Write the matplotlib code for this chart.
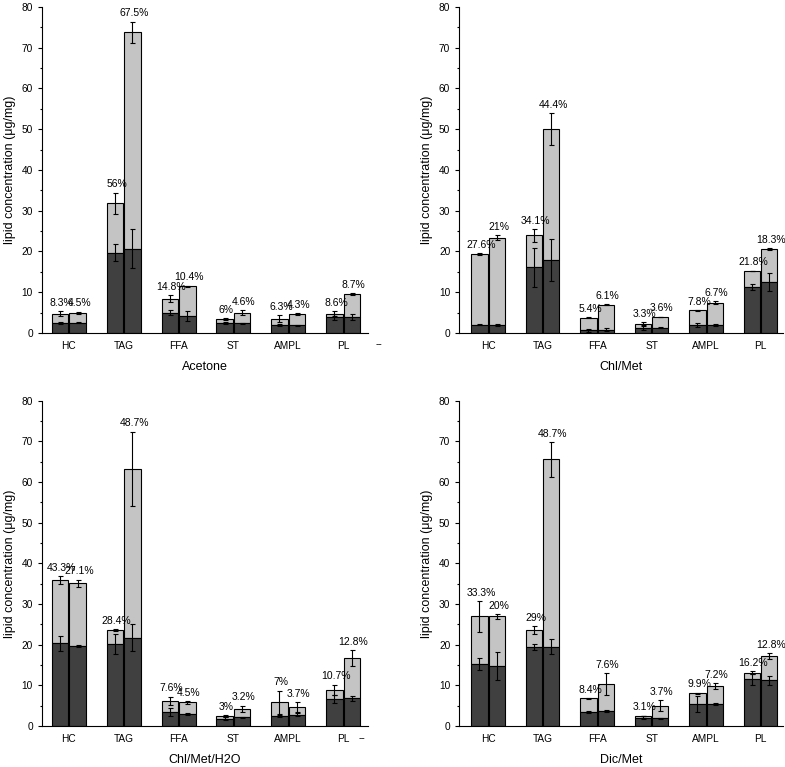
import numpy as np
import matplotlib
matplotlib.use("Agg")
import matplotlib.pyplot as plt

plt.rcParams['font.family']=['Liberation Sans','DejaVu Sans']

cats=["HC","TAG","FFA","ST","AMPL","PL"]

#======================
# Data (per panel: two bars per category)
#======================

# Acetone
ace_dark1=[2.46,19.7,4.9,2.46,1.9,3.9]
ace_dark1_err=[0.2,2.0,0.6,0.2,0.25,0.8]
ace_tot1=[4.75,31.8,8.4,3.36,3.5,4.75]
ace_tot1_err=[0.5,2.6,0.9,0.2,0.9,0.5]
ace_dark2=[2.46,20.7,4.1,2.4,1.9,3.9]
ace_dark2_err=[0.1,4.9,1.2,0.1,0.1,0.8]
ace_tot2=[4.9,73.8,11.4,5.0,4.6,9.5]
ace_tot2_err=[0.3,2.6,0.2,0.5,0.2,0.3]
ace_pct1=["8.3%","56%","14.8%","6%","6.3%","8.6%"]
ace_pct2=["4.5%","67.5%","10.4%","4.6%","4.3%","8.7%"]

# Chl/Met
cm_dark1=[2.05,16.1,0.65,1.2,1.9,11.3]
cm_dark1_err=[0.1,4.8,0.4,0.4,0.5,0.8]
cm_tot1=[19.3,23.9,3.7,2.3,5.5,15.2]
cm_tot1_err=[0.2,1.5,0.1,0.3,0.1,0.1]
cm_dark2=[1.9,17.9,0.8,1.3,1.9,12.5]
cm_dark2_err=[0.2,5.2,0.4,0.2,0.2,2.3]
cm_tot2=[23.4,50.0,6.9,3.9,7.45,20.6]
cm_tot2_err=[0.5,4.0,0.1,0.1,0.3,0.25]
cm_pct1=["27.6%","34.1%","5.4%","3.3%","7.8%","21.8%"]
cm_pct2=["21%","44.4%","6.1%","3.6%","6.7%","18.3%"]

# Chl/Met/H2O
cmw_dark1=[20.3,20.2,3.5,1.8,2.45,6.55]
cmw_dark1_err=[1.8,2.4,1.0,0.3,0.2,1.0]
cmw_tot1=[35.9,23.6,6.2,2.45,5.8,8.85]
cmw_tot1_err=[1.0,0.2,1.0,0.2,2.9,1.3]
cmw_dark2=[19.7,21.7,3.0,2.1,2.8,6.8]
cmw_dark2_err=[0.2,3.3,0.3,0.1,0.3,0.6]
cmw_tot2=[35.1,63.3,5.8,4.2,4.75,16.7]
cmw_tot2_err=[0.9,9.1,0.4,0.8,1.2,1.9]
cmw_pct1=["43.3%","28.4%","7.6%","3%","7%","10.7%"]
cmw_pct2=["27.1%","48.7%","4.5%","3.2%","3.7%","12.8%"]

# Dic/Met
dm_dark1=[15.2,19.5,3.5,2.05,5.4,11.5]
dm_dark1_err=[1.4,0.7,0.25,0.3,2.0,1.4]
dm_tot1=[27.0,23.6,6.8,2.45,8.0,13.1]
dm_tot1_err=[3.8,0.9,0.1,0.1,0.2,0.3]
dm_dark2=[14.8,19.5,3.7,1.9,5.4,11.3]
dm_dark2_err=[3.5,1.9,0.2,0.1,0.2,1.1]
dm_tot2=[27.0,65.6,10.25,5.0,9.8,17.2]
dm_tot2_err=[0.6,4.3,2.7,1.4,0.7,0.8]
dm_pct1=["33.3%","29%","8.4%","3.1%","9.9%","16.2%"]
dm_pct2=["20%","48.7%","7.6%","3.7%","7.2%","12.8%"]

panels=[
    ("Acetone",ace_dark1,ace_dark1_err,ace_tot1,ace_tot1_err,ace_dark2,ace_dark2_err,ace_tot2,ace_tot2_err,ace_pct1,ace_pct2),
    ("Chl/Met",cm_dark1,cm_dark1_err,cm_tot1,cm_tot1_err,cm_dark2,cm_dark2_err,cm_tot2,cm_tot2_err,cm_pct1,cm_pct2),
    ("Chl/Met/H2O",cmw_dark1,cmw_dark1_err,cmw_tot1,cmw_tot1_err,cmw_dark2,cmw_dark2_err,cmw_tot2,cmw_tot2_err,cmw_pct1,cmw_pct2),
    ("Dic/Met",dm_dark1,dm_dark1_err,dm_tot1,dm_tot1_err,dm_dark2,dm_dark2_err,dm_tot2,dm_tot2_err,dm_pct1,dm_pct2),
]

boxes=[
    [0.0535,0.566,0.415,0.425],
    [0.585,0.566,0.413,0.425],
    [0.0535,0.0535,0.415,0.424],
    [0.585,0.0535,0.413,0.424],
]

# stray "--" tick text seen in the left panels
dash_pos=[(6.65,-2.7),None,(6.35,-3.1),None]

dark="#404040"
light="#c4c4c4"
w=0.30
off=0.16

fig=plt.figure(figsize=(7.85,7.67),dpi=100)
x=np.arange(1,len(cats)+1)

for i,(name,d1,d1e,t1,t1e,d2,d2e,t2,t2e,p1,p2) in enumerate(panels):
    ax=fig.add_axes(boxes[i])
    for xs,d,de,t,te,p in [(x-off,d1,d1e,t1,t1e,p1),(x+off,d2,d2e,t2,t2e,p2)]:
        d=np.array(d); t=np.array(t)
        ax.bar(xs,t-d,w,bottom=d,color=light,edgecolor="black",linewidth=0.8,zorder=2)
        ax.bar(xs,d,w,color=dark,edgecolor="black",linewidth=0.8,zorder=2)
        ax.errorbar(xs,d,yerr=de,fmt="none",ecolor="black",elinewidth=0.8,capsize=1.8,capthick=0.8,zorder=3)
        ax.errorbar(xs,t,yerr=te,fmt="none",ecolor="black",elinewidth=0.8,capsize=1.8,capthick=0.8,zorder=3)
        for xx,tt,ee,lab in zip(xs,t,te,p):
            ax.text(xx+0.03,tt+ee+0.8,lab,ha="center",va="bottom",fontsize=7.5)
    if i%2==0:
        ax.set_xlim(0.51,6.45)
    else:
        ax.set_xlim(0.47,6.42)
    ax.set_ylim(0,80)
    ax.set_xticks(x)
    ax.set_xticklabels(cats,fontsize=7.3)
    ax.tick_params(axis="x",length=0,pad=6)
    ax.set_yticks(np.arange(0,81,10))
    ax.set_yticks(np.arange(0,81,5),minor=True)
    ax.tick_params(axis="y",labelsize=7.3,direction="out",length=3,width=0.8)
    ax.tick_params(axis="y",which="minor",direction="out",length=1.8,width=0.8)
    ax.spines["top"].set_visible(False)
    ax.spines["right"].set_visible(False)
    ax.spines["left"].set_linewidth(0.8)
    ax.spines["bottom"].set_linewidth(0.8)
    ax.set_ylabel("lipid concentration (μg/mg)",fontsize=9)
    ax.set_xlabel(name,fontsize=9,labelpad=7)
    if dash_pos[i] is not None:
        ax.text(dash_pos[i][0],dash_pos[i][1],"--",ha="center",va="center",fontsize=7.3,clip_on=False)

plt.savefig("out.png",dpi=100)
